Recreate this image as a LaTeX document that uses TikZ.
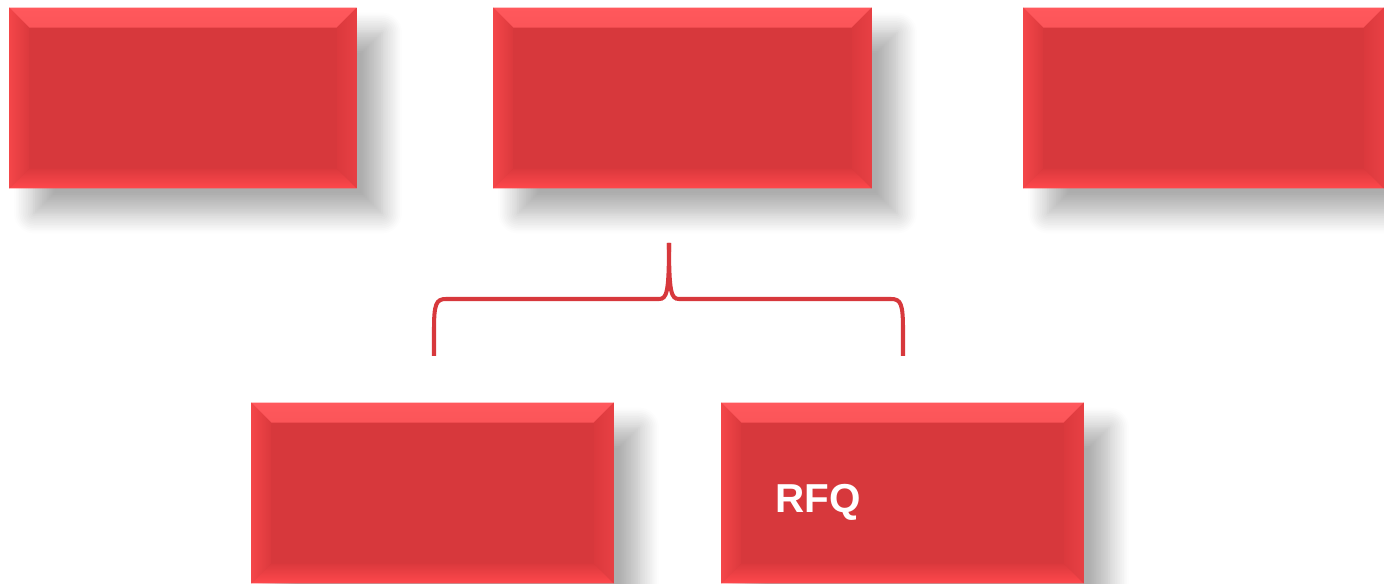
\documentclass[tikz,border=0pt]{standalone}
\usepackage{fontspec}
\setmainfont{Liberation Sans}
\usetikzlibrary{shadows.blur}
\definecolor{boxred}{HTML}{D7383C}
\definecolor{bevtop}{HTML}{FF585C}
\definecolor{bevbot}{HTML}{FF484C}
\definecolor{bevleft}{HTML}{F44649}
\definecolor{bevright}{HTML}{E84044}
\definecolor{bevin}{HTML}{DB393D}

\begin{document}
\begin{tikzpicture}[x=0.02cm,y=-0.02cm]
    \tikzstyle{bevelbox}=[rectangle,fill=boxred,inner sep=0pt,outer sep=0pt,
      minimum height=3.62cm,
      blur shadow={shadow xshift=0.5cm,shadow yshift=-0.5cm,shadow blur radius=0.4cm,shadow blur steps=12,shadow opacity=32},
      path picture={
        \shade[top color=bevtop,bottom color=bevin] (path picture bounding box.north west) -- (path picture bounding box.north east)
          -- ([shift={(-0.4cm,-0.4cm)}]path picture bounding box.north east) -- ([shift={(0.4cm,-0.4cm)}]path picture bounding box.north west) -- cycle;
        \shade[top color=bevin,bottom color=bevbot] (path picture bounding box.south west) -- (path picture bounding box.south east)
          -- ([shift={(-0.4cm,0.4cm)}]path picture bounding box.south east) -- ([shift={(0.4cm,0.4cm)}]path picture bounding box.south west) -- cycle;
        \shade[left color=bevleft,right color=bevin] (path picture bounding box.north west) -- ([shift={(0.4cm,-0.4cm)}]path picture bounding box.north west)
          -- ([shift={(0.4cm,0.4cm)}]path picture bounding box.south west) -- (path picture bounding box.south west) -- cycle;
        \shade[left color=bevin,right color=bevright] (path picture bounding box.north east) -- ([shift={(-0.4cm,-0.4cm)}]path picture bounding box.north east)
          -- ([shift={(-0.4cm,0.4cm)}]path picture bounding box.south east) -- (path picture bounding box.south east) -- cycle;
      }]
    \tikzstyle{brace}=[draw=boxred,line width=2.3pt]
    \tikzstyle{rfqtext}=[text=white,font=\bfseries\fontsize{23}{23}\selectfont,inner sep=0pt]
    \useasboundingbox (0,0) rectangle (1384,584);
    \clip (0,0) rectangle (1384,584);
    % top row
    \node[bevelbox,minimum width=6.96cm] (plan) at (183,98) {};
    \node[bevelbox,minimum width=7.58cm] (source) at (682.5,98) {};
    \node[bevelbox,minimum width=7.22cm] (award) at (1203.5,98) {};
    % bottom row
    \node[bevelbox,minimum width=7.26cm] (rfi) at (432.5,493) {};
    \node[bevelbox,minimum width=7.26cm] (rfq) at (902.5,493) {};
    \node[rfqtext,anchor=base west] (rfqlabel) at (775,512) {RFQ};
    % brace
    \coordinate (brtop) at (669,243);
    \coordinate (brleft) at (434,356);
    \coordinate (brright) at (903,356);
    \draw[brace] (brleft) -- (434,330) .. controls (434,304) and (436,299) .. (446,299)
      -- (659,299) .. controls (667,299) and (669,292) .. (brtop);
    \draw[brace] (brtop) .. controls (669,292) and (671,299) .. (679,299)
      -- (891,299) .. controls (901,299) and (903,304) .. (903,330) -- (brright);
\end{tikzpicture}
\end{document}
